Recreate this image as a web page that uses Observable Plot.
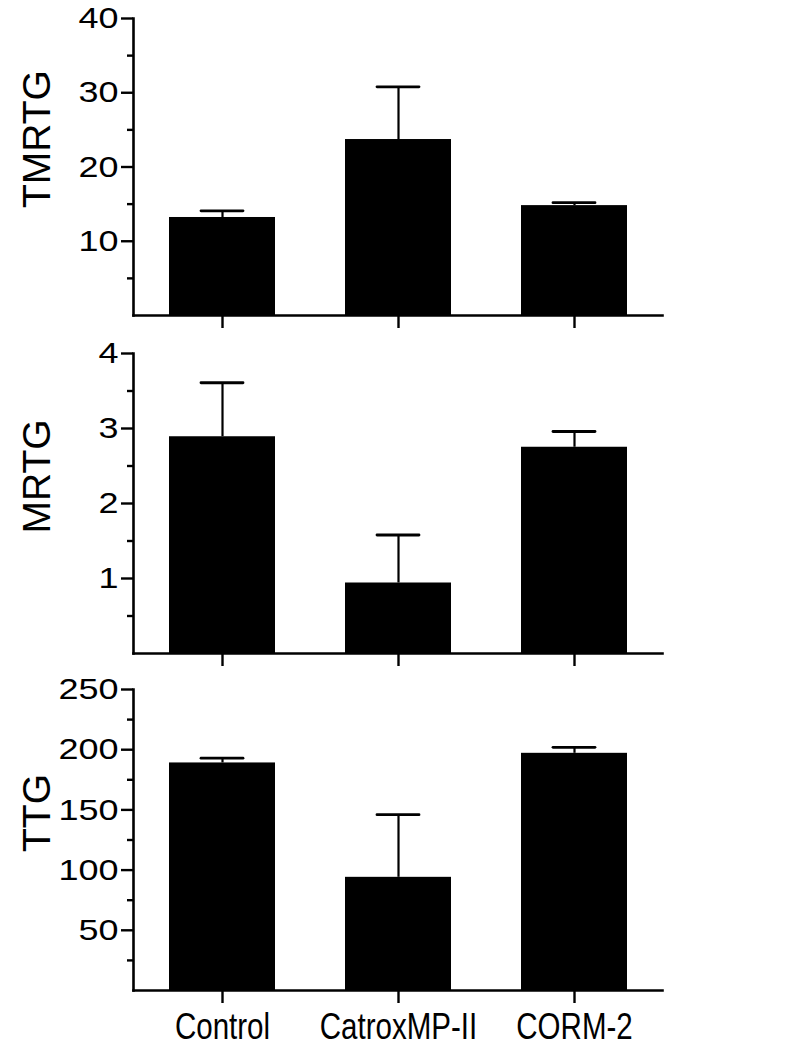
<!DOCTYPE html>
<html>
<head>
<meta charset="utf-8">
<script src="https://cdn.jsdelivr.net/npm/d3@7"></script>
<script src="https://cdn.jsdelivr.net/npm/@observablehq/plot@0.6"></script>
<style>
  html, body { margin: 0; padding: 0; background: #fff; }
  #chart svg { display: block; }
</style>
</head>
<body>
<div id="chart"></div>
<script>
const categories = ["Control", "CatroxMP-II", "CORM-2"];

const tmrtgMean = [13.2, 23.7, 14.8];
const tmrtgErr  = [0.9, 7.1, 0.4];
const tmrtgTicks = [10, 20, 30, 40];
const tmrtgMinor = [5, 15, 25, 35];

const mrtgMean = [2.89, 0.94, 2.75];
const mrtgErr  = [0.72, 0.64, 0.21];
const mrtgTicks = [1, 2, 3, 4];
const mrtgMinor = [0.5, 1.5, 2.5, 3.5];

const ttgMean = [189, 94, 197];
const ttgErr  = [4, 52, 5];
const ttgTicks = [50, 100, 150, 200, 250];
const ttgMinor = [25, 75, 125, 175, 225];

function panel({label, mean, err, domain, ticks, minor, showX, height, marginTop, marginBottom, labelDy}) {
  const data = categories.map((c, i) => ({cat: c, v: mean[i], hi: mean[i] + err[i]}));
  return Plot.plot({
    width: 800,
    height,
    marginTop,
    marginBottom,
    marginLeft: 133,
    marginRight: 138,
    style: {fontFamily: "'Liberation Sans', Arial, sans-serif", fontSize: "30px", color: "#000", background: "#fff"},
    x: {domain: categories, paddingInner: 0.4, paddingOuter: 0.2, axis: null},
    y: {domain, axis: null},
    marks: [
      Plot.barY(data, {x: "cat", y: "v", fill: "#000"}),
      Plot.ruleX(data, {x: "cat", y1: "v", y2: "hi", stroke: "#000", strokeWidth: 2.2}),
      Plot.tickY(data, {x: "cat", y: "hi", stroke: "#000", strokeWidth: 2.8, insetLeft: 32, insetRight: 32, strokeLinecap: "round"}),
      Plot.axisY(ticks, {tickSize: 12, tickPadding: 3, strokeWidth: 2.4, label: null, fontSize: 30,
        className: "ytl", tickFormat: d => String(d)}),
      Plot.axisY(minor, {tickSize: 6, strokeWidth: 2.4, label: null, tickFormat: null, text: null}),
      Plot.frame({anchor: "left", stroke: "#000", strokeWidth: 2.6}),
      Plot.frame({anchor: "bottom", stroke: "#000", strokeWidth: 2.6}),
      Plot.axisX({tickSize: 13, tickPadding: 10, strokeWidth: 2.4, label: null,
        fontSize: 36, className: "xtl",
        tickFormat: showX ? d => d : () => ""}),
      Plot.text([label], {frameAnchor: "left", text: d => d, rotate: -90, dx: -96, dy: labelDy,
        textAnchor: "middle", fontSize: 39, fill: "#000"})
    ]
  });
}

const el = document.getElementById("chart");
el.append(panel({label: "TMRTG", mean: tmrtgMean, err: tmrtgErr, domain: [0, 40], ticks: tmrtgTicks, minor: tmrtgMinor,
  showX: false, height: 333, marginTop: 18, marginBottom: 18, labelDy: -28}));
el.append(panel({label: "MRTG", mean: mrtgMean, err: mrtgErr, domain: [0, 4], ticks: mrtgTicks, minor: mrtgMinor,
  showX: false, height: 336, marginTop: 20, marginBottom: 16, labelDy: -27}));
el.append(panel({label: "TTG", mean: ttgMean, err: ttgErr, domain: [0, 250], ticks: ttgTicks, minor: ttgMinor,
  showX: true, height: 377, marginTop: 20, marginBottom: 56, labelDy: -27}));

// Match the glyph proportions of the reference: wide tick numerals, condensed category labels.
function stretch(selector, factor) {
  el.querySelectorAll(selector + " text").forEach(t => {
    const w = t.getComputedTextLength();
    if (w > 0) {
      t.setAttribute("textLength", (w * factor).toFixed(1));
      t.setAttribute("lengthAdjust", "spacingAndGlyphs");
    }
  });
}
stretch(".ytl", 1.2);
stretch(".xtl", 0.82);
</script>
</body>
</html>
